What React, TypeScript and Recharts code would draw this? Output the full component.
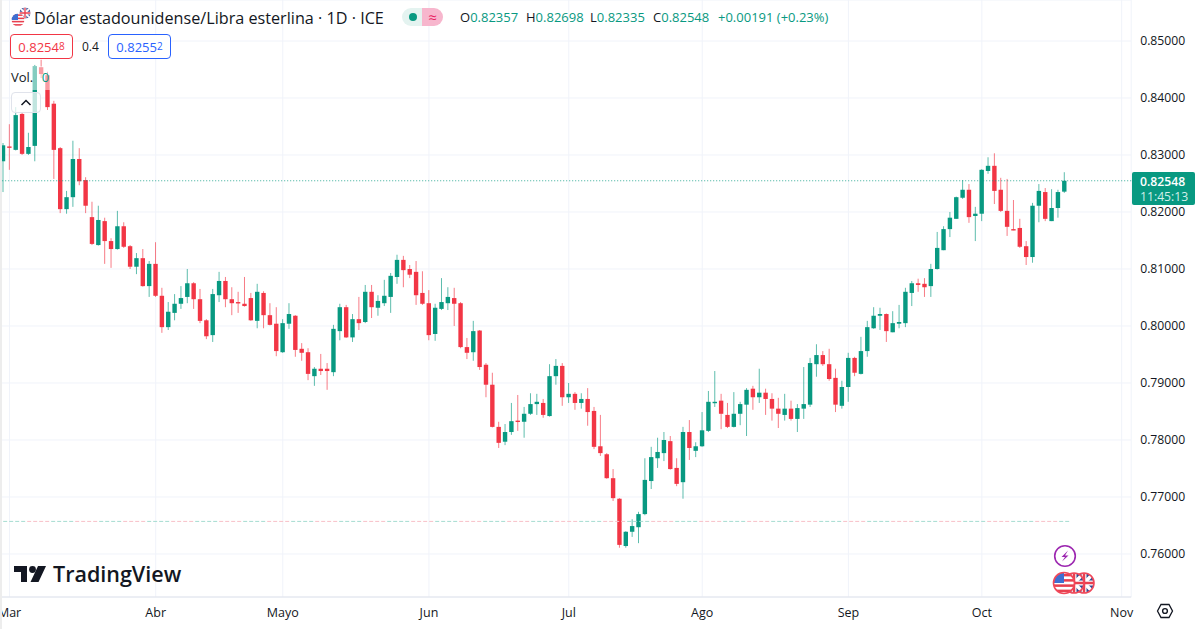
import React from "react";
import { ComposedChart, Bar, XAxis, YAxis, CartesianGrid, ReferenceLine } from "recharts";

const opens = [
  0.8289,0.8315,0.8309,0.8372,0.8302,0.8316,0.8454,0.8440,0.8390,0.8312,
  0.8205,0.8226,0.8293,0.8256,0.8191,0.8142,0.8184,0.8149,0.8135,0.8175,
  0.8140,0.8104,0.8119,0.8070,0.8109,0.8053,0.7998,0.8023,0.8039,0.8051,
  0.8075,0.8047,0.8010,0.7984,0.8054,0.8079,0.8047,0.8042,0.8039,0.8049,
  0.8009,0.8058,0.8019,0.8004,0.7954,0.8004,0.8018,0.7960,0.7954,0.7912,
  0.7925,0.7925,0.7919,0.7991,0.8033,0.7980,0.8012,0.8007,0.8060,0.8032,
  0.8040,0.8051,0.8086,0.8116,0.8100,0.8095,0.8058,0.8040,0.7986,0.8030,
  0.8040,0.8049,0.8040,0.7963,0.7954,0.7992,0.7932,0.7897,0.7823,0.7797,
  0.7814,0.7834,0.7832,0.7846,0.7863,0.7865,0.7842,0.7912,0.7930,0.7875,
  0.7881,0.7865,0.7872,0.7851,0.7789,0.7775,0.7733,0.7697,0.7614,0.7639,
  0.7647,0.7670,0.7728,0.7768,0.7777,0.7798,0.7751,0.7726,0.7814,0.7781,
  0.7789,0.7816,0.7865,0.7869,0.7844,0.7823,0.7846,0.7862,0.7890,0.7875,
  0.7883,0.7872,0.7855,0.7844,0.7855,0.7837,0.7855,0.7862,0.7933,0.7949,
  0.7933,0.7909,0.7860,0.7893,0.7944,0.7916,0.7956,0.7996,0.8018,0.8021,
  0.7989,0.8004,0.8005,0.8058,0.8075,0.8074,0.8070,0.8100,0.8133,0.8170,
  0.8188,0.8225,0.8239,0.8193,0.8197,0.8272,0.8281,0.8239,0.8202,0.8170,
  0.8172,0.8140,0.8121,0.8211,0.8235,0.8184,0.8207,0.82357,
];
const highs = [
  0.8321,0.8354,0.8384,0.8375,0.8339,0.8458,0.8467,0.8446,0.8395,0.8314,
  0.8237,0.8325,0.8312,0.8261,0.8218,0.8211,0.8190,0.8154,0.8202,0.8182,
  0.8142,0.8128,0.8135,0.8114,0.8147,0.8067,0.8042,0.8056,0.8070,0.8100,
  0.8077,0.8065,0.8012,0.8065,0.8095,0.8086,0.8068,0.8060,0.8086,0.8058,
  0.8074,0.8061,0.8040,0.8033,0.8012,0.8040,0.8019,0.7970,0.7961,0.7928,
  0.7951,0.7935,0.8002,0.8039,0.8037,0.8021,0.8051,0.8072,0.8072,0.8054,
  0.8081,0.8093,0.8125,0.8123,0.8107,0.8114,0.8096,0.8063,0.8039,0.8084,
  0.8068,0.8067,0.8042,0.7979,0.8009,0.7993,0.7935,0.7918,0.7832,0.7828,
  0.7865,0.7879,0.7858,0.7882,0.7881,0.7872,0.7933,0.7942,0.7935,0.7900,
  0.7884,0.7882,0.7891,0.7858,0.7844,0.7777,0.7749,0.7698,0.7640,0.7661,
  0.7674,0.7768,0.7788,0.7804,0.7814,0.7807,0.7768,0.7823,0.7835,0.7796,
  0.7849,0.7886,0.7921,0.7881,0.7865,0.7884,0.7867,0.7891,0.7895,0.7925,
  0.7890,0.7882,0.7874,0.7881,0.7869,0.7863,0.7928,0.7944,0.7968,0.7956,
  0.7960,0.7925,0.7904,0.7953,0.7946,0.7981,0.8009,0.8033,0.8032,0.8022,
  0.8026,0.8037,0.8067,0.8079,0.8083,0.8084,0.8109,0.8165,0.8175,0.8200,
  0.8227,0.8256,0.8249,0.8209,0.8275,0.8296,0.8303,0.8260,0.8258,0.8221,
  0.8188,0.8149,0.8216,0.8249,0.8242,0.8240,0.8239,0.82698,
];
const lows = [
  0.8235,0.8274,0.8308,0.8300,0.8300,0.8289,0.8435,0.8379,0.8258,0.8198,
  0.8197,0.8209,0.8247,0.8198,0.8142,0.8141,0.8109,0.8102,0.8134,0.8137,
  0.8100,0.8091,0.8069,0.8051,0.8051,0.7988,0.7993,0.8010,0.8030,0.8040,
  0.8030,0.8005,0.7977,0.7972,0.8042,0.8033,0.8019,0.8023,0.8034,0.8009,
  0.7996,0.7996,0.8001,0.7947,0.7953,0.7995,0.7946,0.7939,0.7905,0.7895,
  0.7914,0.7888,0.7912,0.7975,0.7979,0.7972,0.7993,0.8005,0.8014,0.8018,
  0.8035,0.8023,0.8074,0.8068,0.8084,0.8037,0.8037,0.7975,0.7974,0.8028,
  0.8028,0.8000,0.7961,0.7942,0.7939,0.7923,0.7875,0.7822,0.7786,0.7791,
  0.7809,0.7816,0.7804,0.7844,0.7844,0.7839,0.7841,0.7897,0.7860,0.7865,
  0.7853,0.7855,0.7825,0.7784,0.7772,0.7732,0.7693,0.7611,0.7611,0.7630,
  0.7619,0.7668,0.7714,0.7751,0.7763,0.7748,0.7719,0.7697,0.7765,0.7770,
  0.7788,0.7814,0.7858,0.7819,0.7821,0.7822,0.7826,0.7807,0.7853,0.7865,
  0.7844,0.7834,0.7821,0.7834,0.7834,0.7814,0.7837,0.7858,0.7911,0.7930,
  0.7904,0.7849,0.7855,0.7867,0.7912,0.7915,0.7946,0.7995,0.7993,0.7972,
  0.7989,0.7996,0.7998,0.8035,0.8060,0.8051,0.8051,0.8099,0.8133,0.8156,
  0.8188,0.8223,0.8181,0.8149,0.8184,0.8267,0.8214,0.8200,0.8158,0.8168,
  0.8137,0.8107,0.8111,0.8182,0.8184,0.8184,0.8190,0.82335,
];
const closes = [
  0.8317,0.8313,0.8370,0.8302,0.8314,0.8456,0.8442,0.8384,0.8309,0.8205,
  0.8226,0.8293,0.8254,0.8211,0.8144,0.8186,0.8149,0.8135,0.8175,0.8139,
  0.8104,0.8119,0.8070,0.8109,0.8053,0.7998,0.8025,0.8039,0.8049,0.8075,
  0.8047,0.8009,0.7982,0.8056,0.8079,0.8047,0.8040,0.8040,0.8035,0.8010,
  0.8060,0.8019,0.8002,0.7956,0.8005,0.8021,0.7958,0.7953,0.7916,0.7925,
  0.7921,0.7921,0.7995,0.8033,0.7980,0.8012,0.8005,0.8060,0.8033,0.8044,
  0.8053,0.8088,0.8116,0.8098,0.8090,0.8054,0.8039,0.7984,0.8032,0.8042,
  0.8051,0.8039,0.7963,0.7953,0.7991,0.7928,0.7897,0.7823,0.7795,0.7814,
  0.7833,0.7832,0.7846,0.7863,0.7867,0.7844,0.7912,0.7930,0.7875,0.7881,
  0.7865,0.7872,0.7849,0.7788,0.7777,0.7733,0.7698,0.7616,0.7639,0.7649,
  0.7670,0.7730,0.7770,0.7779,0.7800,0.7749,0.7723,0.7814,0.7786,0.7789,
  0.7817,0.7867,0.7867,0.7846,0.7823,0.7846,0.7863,0.7888,0.7875,0.7883,
  0.7872,0.7855,0.7846,0.7855,0.7837,0.7856,0.7863,0.7935,0.7949,0.7933,
  0.7907,0.7862,0.7893,0.7944,0.7918,0.7956,0.7998,0.8018,0.8021,0.7991,
  0.8005,0.8007,0.8060,0.8075,0.8072,0.8068,0.8100,0.8137,0.8170,0.8190,
  0.8226,0.8239,0.8191,0.8197,0.8274,0.8281,0.8237,0.8202,0.8174,0.8168,
  0.8139,0.8121,0.8211,0.8237,0.8188,0.8207,0.8235,0.82548,
];

const monthLabels = ["Mar", "Abr", "Mayo", "Jun", "Jul", "Ago", "Sep", "Oct", "Nov"];
const monthIndex = [1, 24, 44, 67, 89, 110, 133, 154, 176];
const priceTicks = [0.76, 0.77, 0.78, 0.79, 0.8, 0.81, 0.82, 0.83, 0.84, 0.85];
const lastPrice = 0.82548;
const lowerLevel = 0.76572;
const totalSlots = 178;
const priceDomain = [0.752456, 0.857193];

const UP = "#089981";
const DOWN = "#F23645";

const rows = Array.from({ length: totalSlots }, (_, i) => ({
  i,
  open: opens[i],
  high: highs[i],
  low: lows[i],
  close: closes[i],
  range: i < opens.length ? [lows[i], highs[i]] : null,
}));

function Candle(props: any) {
  const { x, y, width, height, payload } = props;
  if (!payload || payload.high == null || !Number.isFinite(y)) return null;
  const k = height / (payload.high - payload.low);
  const color = payload.close >= payload.open ? UP : DOWN;
  const cx = x + width / 2;
  const top = y + (payload.high - Math.max(payload.open, payload.close)) * k;
  const bodyH = Math.max(1.4, Math.abs(payload.close - payload.open) * k);
  return (
    <g>
      <line x1={cx} x2={cx} y1={y} y2={y + height} stroke={color} strokeWidth={1} strokeOpacity={0.65} />
      <rect x={cx - 2.2} y={top} width={4.4} height={bodyH} fill={color} />
    </g>
  );
}

const FONT = "'Open Sans', sans-serif";

const abs = (left: number, top: number, extra: any = {}): any => ({
  position: "absolute",
  left,
  top,
  whiteSpace: "nowrap",
  fontFamily: FONT,
  ...extra,
});

function Quote({ left, label, value }: { left: number; label: string; value: string }) {
  return (
    <div style={abs(left, 8, { fontSize: 13, lineHeight: "18px", color: UP })}>
      <span style={{ color: "#131722" }}>{label}</span>
      {value}
    </div>
  );
}

function PriceBox({ left, color, text, tail }: { left: number; color: string; text: string; tail: string }) {
  return (
    <div
      style={abs(left, 34, {
        width: 63,
        height: 25,
        boxSizing: "border-box",
        border: `1px solid ${color}`,
        borderRadius: 4,
        background: "#fff",
        color,
        fontSize: 13,
        lineHeight: "23px",
        textAlign: "center",
      })}
    >
      {text}
      <span style={{ fontSize: 10, verticalAlign: 2 }}>{tail}</span>
    </div>
  );
}

function UsFlag({ cx, cy, r, ring }: { cx: number; cy: number; r: number; ring?: string }) {
  const id = `us${cx}`;
  return (
    <g>
      <clipPath id={id}>
        <circle cx={cx} cy={cy} r={r} />
      </clipPath>
      <g clipPath={`url(#${id})`}>
        <rect x={cx - r} y={cy - r} width={2 * r} height={2 * r} fill="#fff" />
        {[-0.75, -0.25, 0.25, 0.75].map((f) => (
          <rect key={f} x={cx - r} y={cy + f * r - r * 0.12} width={2 * r} height={r * 0.24} fill="#e8404f" />
        ))}
        <rect x={cx - r} y={cy - r} width={r} height={r} fill="#3f6fd1" />
      </g>
      <circle cx={cx} cy={cy} r={r} fill="none" stroke={ring || "none"} strokeWidth={1.6} />
    </g>
  );
}

function UkFlag({ cx, cy, r, ring }: { cx: number; cy: number; r: number; ring?: string }) {
  const id = `uk${cx}`;
  return (
    <g>
      <clipPath id={id}>
        <circle cx={cx} cy={cy} r={r} />
      </clipPath>
      <g clipPath={`url(#${id})`}>
        <rect x={cx - r} y={cy - r} width={2 * r} height={2 * r} fill="#2f4a94" />
        <path d={`M${cx - r} ${cy - r}L${cx + r} ${cy + r}M${cx + r} ${cy - r}L${cx - r} ${cy + r}`} stroke="#fff" strokeWidth={r * 0.35} />
        <path d={`M${cx} ${cy - r}V${cy + r}M${cx - r} ${cy}H${cx + r}`} stroke="#fff" strokeWidth={r * 0.5} />
        <path d={`M${cx} ${cy - r}V${cy + r}M${cx - r} ${cy}H${cx + r}`} stroke="#e8404f" strokeWidth={r * 0.25} />
      </g>
      <circle cx={cx} cy={cy} r={r} fill="none" stroke={ring || "none"} strokeWidth={1.6} />
    </g>
  );
}

export default function App() {
  return (
    <div style={{ position: "absolute", left: 0, top: 0, width: 1200, height: 629, background: "#fff", overflow: "hidden" }}>
      <ComposedChart
        width={1200}
        height={629}
        data={rows}
        margin={{ top: 0, right: 0, bottom: 0, left: 0 }}
        barCategoryGap={0}
      >
        <CartesianGrid stroke="#f0f3fa" strokeWidth={1} />
        <XAxis
          dataKey="i"
          type="category"
          height={32}
          ticks={monthIndex}
          interval={0}
          tickFormatter={(v: number) => monthLabels[monthIndex.indexOf(v)] ?? ""}
          tickLine={false}
          axisLine={{ stroke: "#e0e3eb" }}
          tick={{ fontSize: 12.5, fill: "#131722", fontFamily: FONT }}
          tickMargin={5}
        />
        <YAxis
          orientation="right"
          width={68.8}
          type="number"
          domain={priceDomain}
          ticks={priceTicks}
          interval={0}
          allowDataOverflow
          tickFormatter={(v: number) => v.toFixed(5)}
          tickLine={false}
          axisLine={false}
          tick={{ fontSize: 12.2, fill: "#131722", fontFamily: FONT }}
          tickMargin={3}
        />
        <ReferenceLine y={lastPrice} stroke={UP} strokeDasharray="1 2" strokeOpacity={0.8} />
        <ReferenceLine
          segment={[{ x: 0, y: lowerLevel }, { x: 168, y: lowerLevel }]}
          stroke="#a5dcd1"
          strokeDasharray="4 2 4 2 4 2 4 26"
        />
        <ReferenceLine
          segment={[{ x: 0, y: lowerLevel }, { x: 168, y: lowerLevel }]}
          stroke="#f8c0c7"
          strokeDasharray="0 24 4 2 4 2 4 2 4 2"
        />
        <Bar dataKey="range" shape={<Candle />} isAnimationActive={false} />
      </ComposedChart>

      {/* left container edge */}
      <div style={{ position: "absolute", left: 0, top: 0, width: 2, height: 629, background: "#ededed" }} />

      {/* header */}
      <svg style={{ position: "absolute", left: 0, top: 0 }} width={60} height={40}>
        <UkFlag cx={25} cy={13} r={5.5} />
        <UsFlag cx={18} cy={20} r={6.5} />
      </svg>
      <div style={abs(34, 7, { fontSize: 16.2, lineHeight: "22px", color: "#131722" })}>
        Dólar estadounidense/Libra esterlina · 1D · ICE
      </div>
      <div style={abs(402, 8, { width: 20, height: 18, borderRadius: "9px 0 0 9px", background: "#e4f3f0" })}>
        <div style={{ position: "absolute", left: 7, top: 5, width: 8, height: 8, borderRadius: 4, background: UP }} />
      </div>
      <div style={abs(422, 8, { width: 21, height: 18, borderRadius: "0 9px 9px 0", background: "#f7b6cd", color: "#e91e63", fontSize: 15, lineHeight: "18px", textAlign: "center" })}>≈</div>
      <Quote left={460} label="O" value="0.82357" />
      <Quote left={526} label="H" value="0.82698" />
      <Quote left={590} label="L" value="0.82335" />
      <Quote left={653} label="C" value="0.82548" />
      <div style={abs(718, 8, { fontSize: 13, lineHeight: "18px", color: UP })}>+0.00191 (+0.23%)</div>

      <PriceBox left={10} color={DOWN} text="0.8254" tail="8" />
      <div style={abs(82, 38, { fontSize: 12, lineHeight: "17px", color: "#131722" })}>0.4</div>
      <PriceBox left={108} color="#2962FF" text="0.8255" tail="2" />

      <div style={abs(10, 66, { width: 42, height: 24, background: "rgba(255,255,255,0.5)" })} />
      <div style={abs(11, 68, { fontSize: 13, lineHeight: "18px", color: "#131722" })}>
        Vol. <span style={{ color: UP, marginLeft: 5 }}>0</span>
      </div>
      <div style={abs(11, 92, { width: 30, height: 21, boxSizing: "border-box", border: "1px solid #e0e3eb", borderRadius: 4, background: "rgba(255,255,255,0.75)" })}>
        <svg width={28} height={19} style={{ display: "block" }}>
          <path d="M9.5 12L14 7.5L18.5 12" fill="none" stroke="#131722" strokeWidth={1.5} />
        </svg>
      </div>

      {/* last price tag */}
      <div style={abs(1132, 172, { width: 63, height: 33, background: UP, borderRadius: 2, fontSize: 12.2, lineHeight: "15px", color: "#fff", paddingTop: 2, paddingLeft: 8, boxSizing: "border-box" })}>
        <div style={{ fontWeight: 600 }}>0.82548</div>
        <div style={{ color: "#d3efe9" }}>11:45:13</div>
      </div>

      {/* logo + bottom icons */}
      <svg style={{ position: "absolute", left: 0, top: 540 }} width={1200} height={89}>
        <path d="M14 26H27V42H21V32H14Z" fill="#131722" />
        <circle cx={32.5} cy={29.5} r={3.4} fill="#131722" />
        <path d="M38 26H46L38.5 42H30.5Z" fill="#131722" />
        <text x={53} y={41.5} fontFamily={FONT} fontSize={21.5} fontWeight={600} fill="#131722">TradingView</text>

        <circle cx={1065} cy={16} r={10.3} fill="#fff" stroke="#9c27b0" strokeWidth={1.6} />
        <path d="M1068 10.5L1061.5 17H1065L1062 21.5L1068.5 15.5H1065Z" fill="#9c27b0" />
        <UkFlag cx={1084} cy={43} r={10} ring="#f0485a" />
        <UkFlag cx={1074} cy={43} r={10} ring="#f0485a" />
        <UsFlag cx={1064} cy={43} r={10.5} ring="#f0485a" />

        <path d="M1157.5 71L1161 64.5H1169L1172.5 71L1169 77.5H1161Z" fill="none" stroke="#131722" strokeWidth={1.3} />
        <circle cx={1165} cy={71} r={2.4} fill="none" stroke="#131722" strokeWidth={1.4} />
      </svg>
    </div>
  );
}
